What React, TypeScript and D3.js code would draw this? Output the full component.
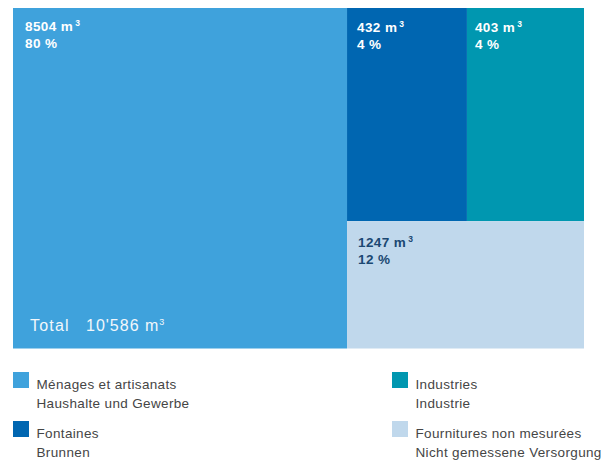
import React from "react";
import * as d3 from "d3";

const categoriesFr = ["Ménages et artisanats", "Fontaines", "Industries", "Fournitures non mesurées"];
const categoriesDe = ["Haushalte und Gewerbe", "Brunnen", "Industrie", "Nicht gemessene Versorgung"];
const values = [8504, 432, 403, 1247];
const colors = ["#3fa2dc", "#0066b1", "#0097b0", "#c0d8ec"];
const labelColors = ["#ffffff", "#ffffff", "#ffffff", "#1b4872"];

// layout (fractions of the plot area) for each block
const blockX = [[0, 0.585], [0.585, 0.795], [0.795, 1], [0.585, 1]];
const blockY = [[0, 1], [0, 0.626], [0, 0.626], [0.626, 1]];
const blockPadX = [12, 10, 8, 11];
const blockPadY = [23, 23.5, 23.5, 26];

const W = 615;
const H = 461;

export default function App() {
  const total = d3.sum(values);
  const x = d3.scaleLinear().domain([0, 1]).range([13, 584]);
  const y = d3.scaleLinear().domain([0, 1]).range([8, 348.5]);
  const fmt = (v: number) => (v >= 10000 ? d3.format(",")(v).replace(/,/g, "'") : String(v));

  const legendCol = [13, 392];
  const legendRow = [372, 421];

  return (
    <div style={{ position: "absolute", left: 0, top: 0 }}>
      <svg width={W} height={H} style={{ display: "block", background: "#fff" }}>
        {values.map((v, i) => {
          const x0 = x(blockX[i][0]);
          const x1 = x(blockX[i][1]);
          const y0 = y(blockY[i][0]);
          const y1 = y(blockY[i][1]);
          const pct = Math.round((v / total) * 100);
          return (
            <g key={i}>
              <rect x={x0} y={y0} width={x1 - x0} height={y1 - y0} fill={colors[i]} />
              <text
                x={x0 + blockPadX[i]}
                y={y0 + blockPadY[i]}
                fill={labelColors[i]}
                fontFamily="Liberation Sans, Arial, sans-serif"
                fontWeight="bold"
                fontSize={13.5}
                letterSpacing={0.4}
              >
                {fmt(v)} m
                <tspan dx={2} dy={-5} fontSize={8.5}>3</tspan>
              </text>
              <text
                x={x0 + blockPadX[i]}
                y={y0 + blockPadY[i] + 17}
                fill={labelColors[i]}
                fontFamily="Liberation Sans, Arial, sans-serif"
                fontWeight="bold"
                fontSize={13.5}
                letterSpacing={0.4}
              >
                {pct} %
              </text>
            </g>
          );
        })}
        <text
          x={30}
          y={330.5}
          fill="#f2f7fb"
          fontFamily="Liberation Sans, Arial, sans-serif"
          fontSize={16}
          letterSpacing={1.2}
        >
          Total
        </text>
        <text
          x={86}
          y={330.5}
          fill="#f2f7fb"
          fontFamily="Liberation Sans, Arial, sans-serif"
          fontSize={16}
          letterSpacing={1}
        >
          {fmt(total)} m
          <tspan dx={0} dy={-6} fontSize={9}>3</tspan>
        </text>
        {categoriesFr.map((c, i) => {
          const col = i === 0 || i === 1 ? 0 : 1;
          const row = i === 0 || i === 2 ? 0 : 1;
          const lx = legendCol[col];
          const ly = legendRow[row];
          return (
            <g key={c}>
              <rect x={lx} y={ly} width={16} height={16} fill={colors[i]} />
              <text
                x={lx + 23.5}
                y={ly + 17}
                fill="#454545"
                fontFamily="Liberation Sans, Arial, sans-serif"
                fontSize={13.5}
                letterSpacing={0.35}
              >
                {c}
              </text>
              <text
                x={lx + 23.5}
                y={ly + 36}
                fill="#454545"
                fontFamily="Liberation Sans, Arial, sans-serif"
                fontSize={13.5}
                letterSpacing={0.35}
              >
                {categoriesDe[i]}
              </text>
            </g>
          );
        })}
      </svg>
    </div>
  );
}
